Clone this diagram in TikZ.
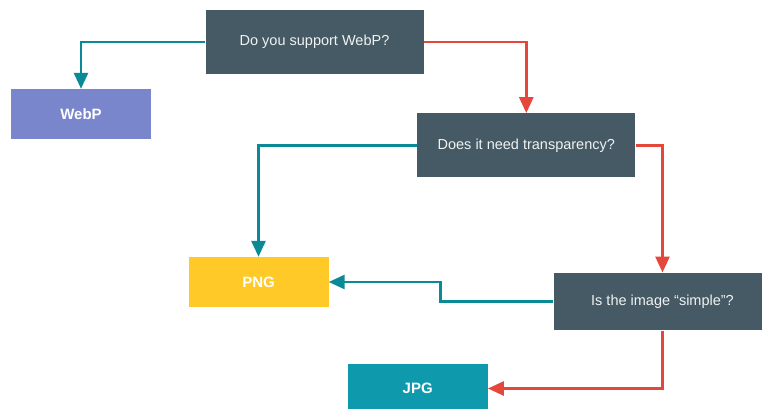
\documentclass[tikz,border=0pt]{standalone}
\usepackage{fontspec}
\setmainfont{Liberation Sans}
\usetikzlibrary{arrows.meta}
\definecolor{slate}{HTML}{455A64}
\definecolor{lavender}{HTML}{7986CB}
\definecolor{amber}{HTML}{FFCA28}
\definecolor{cyan}{HTML}{0E9AAC}
\definecolor{yesline}{HTML}{0A8A96}
\definecolor{noline}{HTML}{E5483A}
\begin{document}
\begin{tikzpicture}[x = 1pt, y = -1pt,
	question/.style = {fill = slate, text = white!92!slate, minimum width = 218pt, minimum height = 64pt, inner sep = 0pt, font = \fontsize{14.5}{17}\selectfont},
	answer/.style = {text = white, minimum width = 140pt, minimum height = 50pt, inner sep = 0pt, font = \fontsize{15}{17}\selectfont\bfseries},
	yes/.style = {color = yesline, line width = 2.8pt, -{Triangle[length = 16pt, width = 14pt]}},
	no/.style = {color = noline, line width = 2.8pt, -{Triangle[length = 16pt, width = 14pt]}}]
	\useasboundingbox (0,0) rectangle (762,409);
	\node[question] (WEBPQ) at (314.5,42) {Do you support WebP?};
	\node[answer, fill = lavender] (WEBP) at (81,114) {WebP};
	\node[question] (ALPHAQ) at (526.3,145.3) {Does it need transparency?};
	\node[answer, fill = amber] (PNG) at (258.5,282) {PNG};
	\node[question, minimum height = 57.6pt] (SIMPLEQ) at (662.5,301.5) {Is the image ``simple''?};
	\node[answer, fill = cyan] (JPG) at (417.7,388.5) {JPG};
	\draw[yes] (WEBPQ.west) -| (WEBP.north);
	\draw[no] (WEBPQ.east) -| (ALPHAQ.north);
	\draw[yes] (ALPHAQ.west) -| (PNG.north);
	\draw[no] (ALPHAQ.east) -| (SIMPLEQ.north);
	\draw[yes] (SIMPLEQ.west) -- ++(-113,0) |- (PNG.east);
	\draw[no] (SIMPLEQ.south) |- (JPG.east);
\end{tikzpicture}
\end{document}
